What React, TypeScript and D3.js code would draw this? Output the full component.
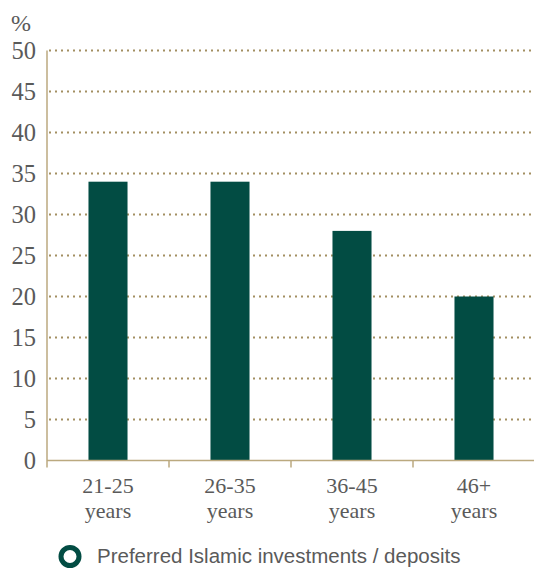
import React, { useEffect, useRef } from 'react';
import * as d3 from 'd3';

const categories = ['21-25|years', '26-35|years', '36-45|years', '46+|years'];
const values = [34, 34, 28, 20];
const yTicks = [0, 5, 10, 15, 20, 25, 30, 35, 40, 45, 50];
const legendLabel = 'Preferred Islamic investments / deposits';

const W = 534;
const H = 568;

const App: React.FC = () => {
  const svgRef = useRef<SVGSVGElement>(null);

  useEffect(() => {
    if (!svgRef.current) return;
    const svg = d3.select(svgRef.current);
    svg.selectAll('*').remove();

    const left = 47, right = 535, top = 50.5, bottom = 460.5;
    const barColor = '#024c43';
    const gold = '#a38f62';
    const axisColor = '#bba97f';
    const textColor = '#5a5a5a';
    const serif = '"Liberation Serif", serif';

    const x = d3.scaleBand<string>()
      .domain(categories)
      .range([left, right])
      .paddingInner(0.68)
      .paddingOuter(0.34);

    const y = d3.scaleLinear().domain([0, 50]).range([bottom, top]);

    // dotted gridlines
    svg.append('g')
      .selectAll('line')
      .data(yTicks.filter(t => t > 0))
      .enter().append('line')
      .attr('x1', left + 2)
      .attr('x2', W)
      .attr('y1', d => y(d))
      .attr('y2', d => y(d))
      .attr('stroke', gold)
      .attr('stroke-width', 2)
      .attr('stroke-dasharray', '2,4');

    // bars
    svg.append('g')
      .selectAll('rect')
      .data(values)
      .enter().append('rect')
      .attr('x', (d, i) => x(categories[i])!)
      .attr('y', d => y(d))
      .attr('width', x.bandwidth())
      .attr('height', d => bottom - y(d))
      .attr('fill', barColor);

    // y axis line
    svg.append('line')
      .attr('x1', left).attr('x2', left)
      .attr('y1', top).attr('y2', bottom + 7)
      .attr('stroke', axisColor).attr('stroke-width', 1.5);

    // x axis line
    svg.append('line')
      .attr('x1', left).attr('x2', W)
      .attr('y1', bottom).attr('y2', bottom)
      .attr('stroke', axisColor).attr('stroke-width', 1.5);

    // x ticks between categories
    const step = x.step();
    svg.append('g')
      .selectAll('line')
      .data(categories.slice(1))
      .enter().append('line')
      .attr('x1', d => x(d)! - step * 0.34)
      .attr('x2', d => x(d)! - step * 0.34)
      .attr('y1', bottom)
      .attr('y2', bottom + 7)
      .attr('stroke', axisColor).attr('stroke-width', 1.5);

    // y tick labels
    svg.append('g')
      .selectAll('text')
      .data(yTicks)
      .enter().append('text')
      .attr('x', 36)
      .attr('y', d => y(d) + 8.5)
      .attr('text-anchor', 'end')
      .style('font-family', serif)
      .style('font-size', '24.5px')
      .style('fill', textColor)
      .text(d => d);

    svg.append('text')
      .attr('x', 11)
      .attr('y', 31)
      .style('font-family', serif)
      .style('font-size', '24px')
      .style('fill', textColor)
      .text('%');

    // x labels (two lines each)
    const cx = (d: string) => x(d)! + x.bandwidth() / 2;
    const xl = svg.append('g');
    xl.selectAll('text.l1')
      .data(categories)
      .enter().append('text')
      .attr('class', 'l1')
      .attr('x', cx)
      .attr('y', 493)
      .attr('text-anchor', 'middle')
      .style('font-family', serif)
      .style('font-size', '22px')
      .style('fill', textColor)
      .text(d => d.split('|')[0]);
    xl.selectAll('text.l2')
      .data(categories)
      .enter().append('text')
      .attr('class', 'l2')
      .attr('x', cx)
      .attr('y', 518)
      .attr('text-anchor', 'middle')
      .style('font-family', serif)
      .style('font-size', '22px')
      .style('fill', textColor)
      .text(d => d.split('|')[1]);

    // legend
    svg.append('circle')
      .attr('cx', 70)
      .attr('cy', 556.5)
      .attr('r', 9)
      .attr('fill', 'none')
      .attr('stroke', barColor)
      .attr('stroke-width', 5);

    svg.append('text')
      .attr('x', 97)
      .attr('y', 563)
      .style('font-family', '"Liberation Sans", sans-serif')
      .style('font-size', '20.5px')
      .style('fill', textColor)
      .text(legendLabel);
  }, []);

  return (
    <svg
      ref={svgRef}
      width={W}
      height={H}
      style={{ position: 'absolute', left: 0, top: 0, background: '#fff' }}
    />
  );
};

export default App;
